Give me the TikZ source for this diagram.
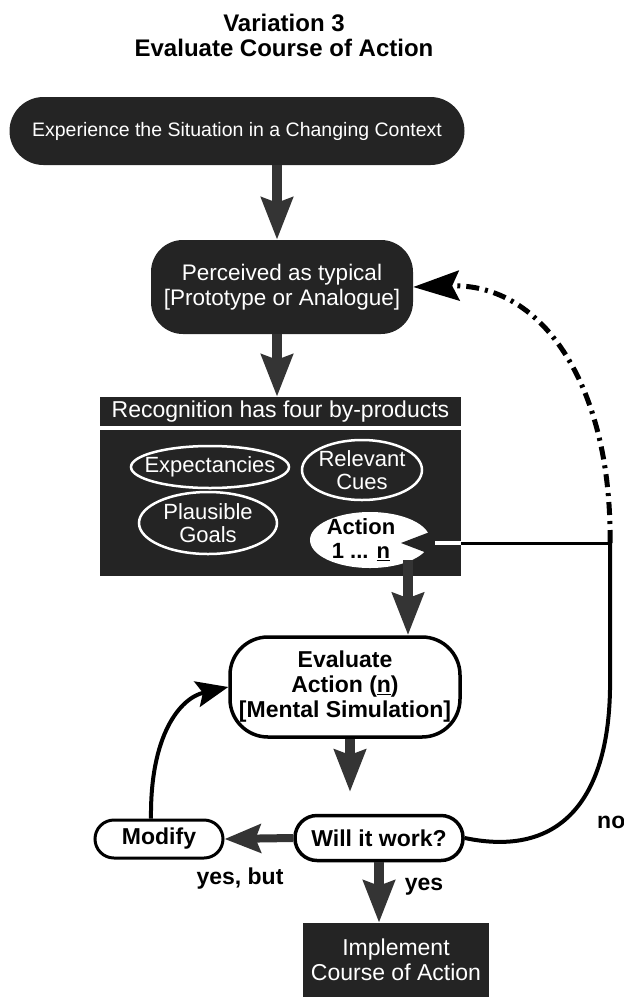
\documentclass[tikz,border=0pt]{standalone}
\usepackage{fontspec}
\setmainfont{Liberation Sans}
\usetikzlibrary{arrows.meta,shapes.geometric}
\definecolor{dk}{RGB}{36,36,36}
\definecolor{ar}{RGB}{52,52,52}
\begin{document}
\begin{tikzpicture}[x=1pt,y=-1pt,
 darknode/.style={fill=dk, text=white, align=center, inner sep=0pt, font=\fontsize{22.5}{25}\selectfont},
 whitenode/.style={draw=black, line width=3.5pt, fill=white, align=center, inner sep=0pt, font=\bfseries\fontsize{23}{25}\selectfont},
 bubtext/.style={text=white, align=center, inner sep=0pt, font=\fontsize{22}{23}\selectfont},
 bubline/.style={draw=white, line width=2.5pt},
 bigarrow/.style={draw=ar, line width=10pt, -{Stealth[length=42pt,width=31pt,inset=5pt]}},
 midarrow/.style={draw=ar, line width=8pt, -{Stealth[length=36pt,width=28pt,inset=5pt]}},
 thinline/.style={draw=black, line width=4pt},
 lbl/.style={font=\bfseries\fontsize{23}{25}\selectfont, inner sep=0pt},
]
\useasboundingbox (0,0) rectangle (624,997);

% title
\node[align=center, font=\bfseries\fontsize{24}{25}\selectfont] (title) at (284,35) {Variation 3\\Evaluate Course of Action};

% nodes
\node[darknode, rounded corners=34pt, minimum width=455pt, minimum height=68pt, font=\fontsize{19.5}{23}\selectfont] (exp) at (237,131) {Experience the Situation in a Changing Context};
\node[darknode, rounded corners=32pt, minimum width=262pt, minimum height=94pt] (perc) at (282,287) {Perceived as typical\\{}[Prototype or Analogue]};
\node[darknode, minimum width=361pt, minimum height=29pt, font=\fontsize{23}{25}\selectfont] (hdr) at (280.5,411.5) {Recognition has four by-products};
\node[darknode, minimum width=361pt, minimum height=146pt] (box) at (280.5,503) {};

\node[bubtext] (expc) at (210,467) {Expectancies};
\draw[bubline] (expc.center) ellipse [x radius=79pt, y radius=21pt];
\node[bubtext] (cues) at (362,470) {Relevant\\Cues};
\draw[bubline] (cues.center) ellipse [x radius=60pt, y radius=30pt];
\node[bubtext] (goals) at (208,523) {Plausible\\Goals};
\draw[bubline] (goals.center) ellipse [x radius=69pt, y radius=31pt];
\fill[white] (370,540) ellipse [x radius=60pt, y radius=28pt];
\node[align=center, inner sep=0pt, font=\bfseries\fontsize{22}{24}\selectfont] (action) at (361,540) {Action\\1 ... \underline{n}};
% notch at the right of the action ellipse
\coordinate (notch) at (401,543);
\fill[dk] (notch) -- ++(34,-13) -- ++(0,26) -- cycle;

\node[whitenode, rounded corners=38pt, minimum width=230pt, minimum height=100pt] (eval) at (345,687) {Evaluate\\Action (\underline{n})\\{}[Mental Simulation]};
\node[whitenode, rounded corners=22pt, minimum width=168pt, minimum height=45pt] (will) at (379,838) {Will it work?};
\node[whitenode, line width=3pt, rounded corners=19pt, minimum width=128pt, minimum height=38pt] (mod) at (159,839) {Modify};
\node[darknode, minimum width=186pt, minimum height=74pt, font=\fontsize{23}{25}\selectfont] (impl) at (396,960) {Implement\\Course of Action};

% labels
\node[lbl] (yesbut) at (240,879) {yes, but};
\node[lbl] (yes) at (424,887) {yes};
\node[lbl, anchor=west] (no) at (597,822) {no};

% coordinates
\coordinate (J) at (610,543);
\coordinate (a3s) at (408,560);
\coordinate (a4e) at (350,792);

% connectors
\draw[bigarrow] ([xshift=-5pt]perc.north |- exp.south) -- ([xshift=-5pt]perc.north);
\draw[bigarrow] ([xshift=-5pt]perc.south) -- ([xshift=-5pt]perc.south |- hdr.north);
\draw[bigarrow] (a3s) -- (a3s |- eval.north);
\draw[bigarrow] ([xshift=5pt]eval.south) -- (a4e);
\draw[midarrow] (will.west) -- (mod.east);
\draw[bigarrow] (will.south) -- (will.south |- impl.north);

% line from junction to action
\draw[draw=black, line width=3pt] (J) -- (box.east |- J);
\draw[draw=white, line width=4pt] (box.east |- J) -- ([xshift=34pt]notch);

% no-loop
\draw[thinline] (J) -- (610,690) .. controls (608,800) and (560,858) .. (will.east);
% dash-dot back to perceived
\draw[draw=black, line width=5pt, dash pattern=on 13pt off 6pt on 3pt off 6pt, -{Stealth[length=46pt,width=30pt,inset=7pt]}] (J) .. controls (612,390) and (545,283) .. (perc.east);
% modify back to evaluate
\draw[thinline, -{Stealth[length=32pt,width=26pt,inset=6pt]}] ([xshift=-8pt]mod.north) .. controls (150,735) and (180,698) .. (eval.west);
\end{tikzpicture}
\end{document}
